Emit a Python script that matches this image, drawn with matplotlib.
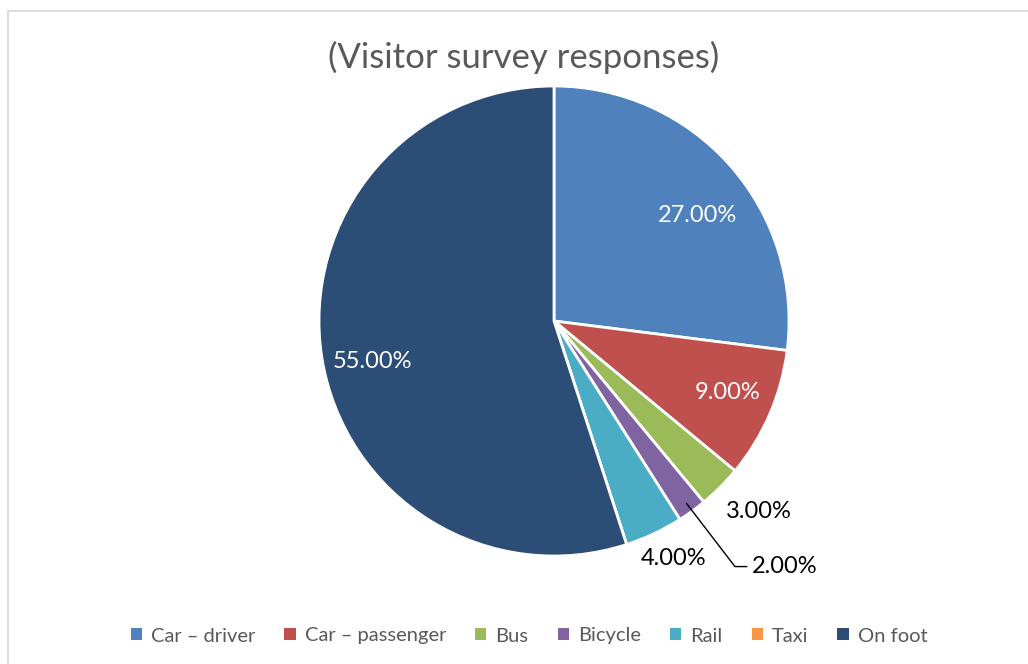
import numpy as np
import matplotlib.pyplot as plt
from matplotlib.lines import Line2D
from matplotlib.patches import Patch

plt.rcParams["font.family"] = ["Lato", "DejaVu Sans"]

categories = ["Car – driver", "Car – passenger", "Bus", "Bicycle", "Rail", "Taxi", "On foot"]
shares = [27.0, 9.0, 3.0, 2.0, 4.0, 0.0, 55.0]
colors = ["#4F81BD", "#C0504D", "#9BBB59", "#8064A2", "#4BACC6", "#F79646", "#2C4D75"]

# label radius (fraction of pie radius) and angle nudge in degrees, per slice
label_radius = [0.76, 0.80, 1.19, 1.19, 1.13, 0.0, 0.79]
label_shift = [-5, 1, 2, 0, 1.5, 0, 3.5]

W, H = 1028, 664
fig = plt.figure(figsize=(W / 100, H / 100), dpi=100)

# thin grey chart-area border, running off the right and bottom edges
fig.add_artist(Line2D([7.5 / W, 7.5 / W], [0, 1 - 10.5 / H], color="#D9D9D9", lw=1.3))
fig.add_artist(Line2D([7.5 / W, 1], [1 - 10.5 / H, 1 - 10.5 / H], color="#D9D9D9", lw=1.3))

cx, cy, r = 554, 321, 235
ax = fig.add_axes([(cx - r) / W, (H - cy - r) / H, 2 * r / W, 2 * r / H])

wedges, _ = ax.pie(
    shares,
    colors=colors,
    startangle=90,
    counterclock=False,
    radius=1,
    wedgeprops=dict(edgecolor="white", linewidth=2),
)
ax.set_aspect("auto")
ax.set_xlim(-1, 1)
ax.set_ylim(-1, 1)
ax.axis("off")

for w, val, rad, shift in zip(wedges, shares, label_radius, label_shift):
    if val == 0:
        continue
    ang = np.deg2rad((w.theta1 + w.theta2) / 2 + shift)
    x, y = rad * np.cos(ang), rad * np.sin(ang)
    inside = rad < 1
    txt = f"{val:.2f}%"
    if val == 2.0:
        # small slice gets a leader line out to its label
        ex, ey = 0.96 * np.cos(ang), 0.96 * np.sin(ang)
        ax.plot([ex, 0.77, 0.82], [ey, -1.045, -1.045], color="black", lw=1, clip_on=False)
        ax.text(0.84, -1.045, txt, ha="left", va="center", fontsize=17, color="#000000")
        continue
    ax.text(x, y, txt, ha="center", va="center", fontsize=17,
            color="white" if inside else "#000000")

fig.text(524 / W, 1 - 57 / H, "(Visitor survey responses)", ha="center", va="center",
         fontsize=25, color="#595959")

handles = [Patch(facecolor=c, edgecolor="none") for c in colors]
fig.legend(handles, categories, loc="center", bbox_to_anchor=(529 / W, 1 - 636 / H), ncol=7,
           frameon=False, fontsize=14.5, labelcolor="#595959", handlelength=0.55,
           handleheight=0.55, handletextpad=0.45, columnspacing=1.45)

fig.savefig("out.png", dpi=100, facecolor="white")
